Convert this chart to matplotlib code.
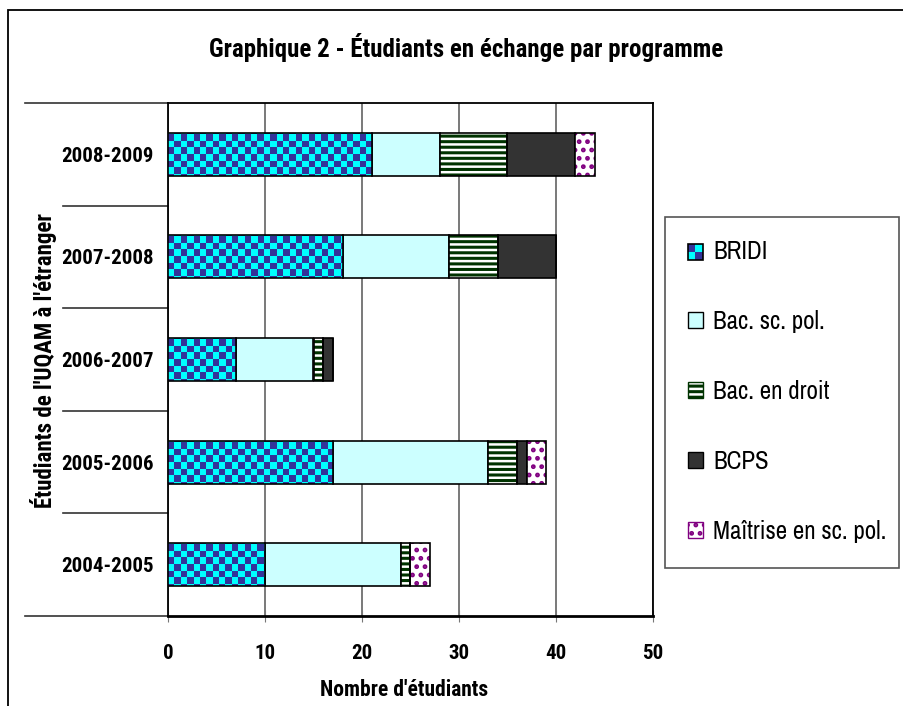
import numpy as np
import matplotlib
matplotlib.use("Agg")
import matplotlib.pyplot as plt
from matplotlib.patches import Rectangle, Patch
from matplotlib.transforms import blended_transform_factory

# ---- data ----
years = ["2004-2005", "2005-2006", "2006-2007", "2007-2008", "2008-2009"]
programmes = ["BRIDI", "Bac. sc. pol.", "Bac. en droit", "BCPS", "Maîtrise en sc. pol."]
bridi = [10, 17, 7, 18, 21]
bac_scpol = [14, 16, 8, 11, 7]
bac_droit = [1, 3, 1, 5, 7]
bcps = [0, 1, 1, 6, 7]
maitrise = [2, 2, 0, 0, 2]
x_ticks = [0, 10, 20, 30, 40, 50]

BOLD = ["Roboto Condensed", "PT Sans Narrow", "Liberation Sans", "DejaVu Sans"]
NARROW = ["Archivo Narrow", "PT Sans Narrow", "Liberation Sans", "DejaVu Sans"]

fig = plt.figure(figsize=(9.04, 7.06), dpi=100)
ax = fig.add_axes([168 / 904, 1 - 616 / 706, 485 / 904, 513 / 706])

# cadre extérieur
fig.patches.append(Rectangle((8 / 904, -0.01), 1.0, 1 - 10 / 706 + 0.01, transform=fig.transFigure,
                             fill=False, edgecolor="black", linewidth=1.3))
# cadre de la légende
fig.patches.append(Rectangle((665 / 904, 1 - 568 / 706), 234 / 904, 351 / 706, transform=fig.transFigure,
                             facecolor="white", edgecolor="#555555", linewidth=1.2))

y = np.arange(len(years))
h = 0.42
series = [bridi, bac_scpol, bac_droit, bcps, maitrise]
left = np.zeros(len(years))

# damier pour BRIDI
nx, ny = 76, 80
checker = (np.add.outer(np.arange(ny), np.arange(nx)) % 2)
cmap = matplotlib.colors.ListedColormap(["#00FFFF", "#333399"])

styles = [
    dict(color="#00FFFF", hatch=None, hc=None),
    dict(color="#CCFFFF", hatch=None, hc=None),
    dict(color="white", hatch="---", hc="#003300"),
    dict(color="#333333", hatch=None, hc=None),
    dict(color="white", hatch="..", hc="#800080"),
]

plt.rcParams["hatch.linewidth"] = 2.2
for i, vals in enumerate(series):
    st = styles[i]
    if st["hatch"]:
        ax.barh(y, vals, height=h, left=left, color=st["color"], hatch=st["hatch"],
                edgecolor=st["hc"], linewidth=0, zorder=3)
    bars = ax.barh(y, vals, height=h, left=left,
                   color=st["color"] if not st["hatch"] else "none",
                   edgecolor="black", linewidth=1.2, zorder=4 if st["hatch"] else 3)
    if i == 0:
        for b in bars:
            im = ax.imshow(checker, cmap=cmap, extent=(0, 50, -0.5, 4.5), aspect="auto",
                           interpolation="nearest", zorder=3.5)
            im.set_clip_path(b)
            b.set_facecolor("none")
            b.set_zorder(4)
    left = left + np.array(vals)

ax.set_xlim(0, 50)
ax.set_ylim(-0.5, 4.5)
ax.set_xticks(x_ticks)
ax.set_xticklabels([str(t) for t in x_ticks], family=BOLD, fontweight="bold", fontsize=15)
ax.set_yticks(y)
ax.set_yticklabels(years, family=BOLD, fontweight="bold", fontsize=15)
ax.tick_params(axis="y", length=0, pad=10)
ax.tick_params(axis="x", length=9, direction="inout", color="#777777", pad=16)
ax.xaxis.grid(True, color="#555555", linewidth=1.1, zorder=0)
ax.set_axisbelow(True)
for s in ax.spines.values():
    s.set_linewidth(1.3)
ax.spines["bottom"].set_linewidth(2)

# lignes de séparation des catégories
tr = blended_transform_factory(ax.transAxes, ax.transData)
for k, yy in enumerate(np.arange(-0.5, len(years), 1.0)):
    x0 = -0.295 if k in (0, len(years)) else -0.2165
    ax.plot([x0, 0], [yy, yy], transform=tr, color="#333333", linewidth=1.2, clip_on=False)

fig.text(404 / 904, 1 - 690 / 706, "Nombre d'étudiants", family=BOLD, fontweight="bold",
         fontsize=15.5, ha="center", va="center")
fig.text(44 / 904, 1 - 361 / 706, "Étudiants de l'UQAM à l'étranger", rotation=90,
         family=BOLD, fontweight="bold", fontsize=16.5, ha="center", va="center")
fig.text(466 / 904, 1 - 47 / 706, "Graphique 2 - Étudiants en échange par programme",
         family=BOLD, fontweight="bold", fontsize=18, ha="center", va="center")


class CheckerHandler:
    def legend_artist(self, legend, orig_handle, fontsize, handlebox):
        x0, y0 = handlebox.xdescent, handlebox.ydescent
        w, hh = handlebox.width, handlebox.height
        tf = handlebox.get_transform()
        arts = [Rectangle((x0, y0), w, hh, facecolor="#00FFFF", transform=tf),
                Rectangle((x0, y0 + hh / 2), w / 2, hh / 2, facecolor="#333399", transform=tf),
                Rectangle((x0 + w / 2, y0), w / 2, hh / 2, facecolor="#333399", transform=tf),
                Rectangle((x0, y0), w, hh, fill=False, edgecolor="black", lw=1.2, transform=tf)]
        for a in arts:
            handlebox.add_artist(a)
        return arts[-1]


handles = [Patch(label=programmes[0]),
           Patch(facecolor="#CCFFFF", edgecolor="black", label=programmes[1]),
           Patch(facecolor="white", edgecolor="#003300", hatch="---", label=programmes[2]),
           Patch(facecolor="#333333", edgecolor="black", label=programmes[3]),
           Patch(facecolor="white", edgecolor="#800080", hatch="..", label=programmes[4])]
leg = fig.legend(handles=handles, loc="upper left", bbox_to_anchor=(688 / 904, 1 - 240 / 706),
                 handler_map={handles[0]: CheckerHandler()},
                 prop={"family": NARROW, "size": 18}, frameon=False,
                 borderpad=0, labelspacing=1.88, handlelength=0.6,
                 handleheight=0.6, handletextpad=0.4, borderaxespad=0)

fig.savefig("out.png", dpi=100)
